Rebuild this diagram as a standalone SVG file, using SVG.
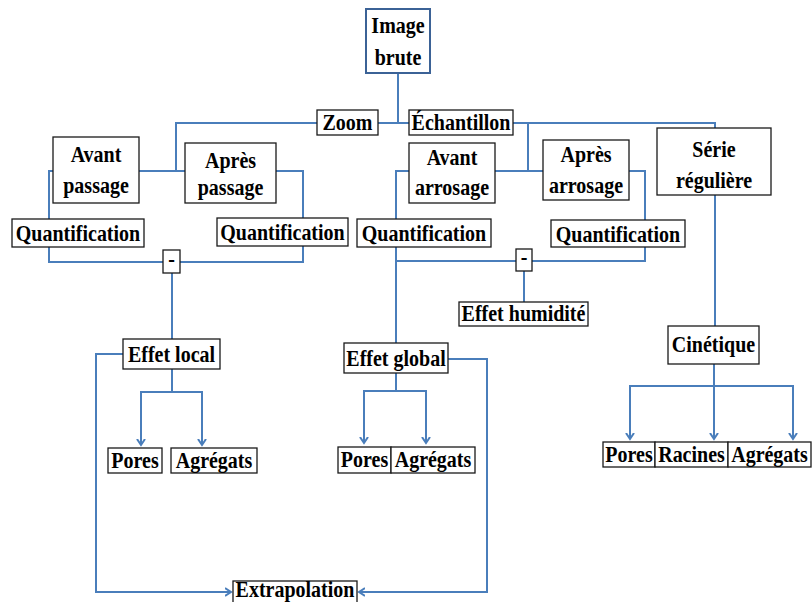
<svg xmlns="http://www.w3.org/2000/svg" width="812" height="602" viewBox="0 0 812 602">
<style>
.bx{fill:#fff;stroke:#1a1a1a;stroke-width:1.3}
.bb{fill:#fff;stroke:#3b6296;stroke-width:2}
.t{font-family:"Liberation Serif","Times New Roman",serif;font-weight:bold;font-size:20px;fill:#000;text-anchor:middle}
.c{fill:none;stroke:#4a7ebb;stroke-width:2}
</style>
<defs>
<marker id="ar" markerUnits="userSpaceOnUse" markerWidth="12" markerHeight="12" viewBox="-6 -6 12 12" refX="0" refY="0" orient="auto-start-reverse">
<path d="M-6,-4 L0,0 L-6,4" fill="none" stroke="#4a7ebb" stroke-width="2"/>
</marker>
</defs>
<rect width="812" height="602" fill="#fff"/>
<g id="connectors">
<path class="c" d="M398,73 V123"/>
<path class="c" d="M176,171 V123 H715 V128"/>
<path class="c" d="M528,123 V171"/>
<path class="c" d="M49,219 V171 H303 V218"/>
<path class="c" d="M49,247 V262 H303 V246"/>
<path class="c" d="M172,273 V339"/>
<path class="c" d="M396,344 V171 H645 V220"/>
<path class="c" d="M396,261 H645 V247"/>
<path class="c" d="M524,271 V302"/>
<path class="c" d="M715,195 V326"/>
<path class="c" d="M172,369 V392"/>
<path class="c" d="M141,445 V392 H202 V445" marker-end="url(#ar)" marker-start="url(#ar)"/>
<path class="c" d="M123,354 H96 V592 H231" marker-end="url(#ar)"/>
<path class="c" d="M396,373 V391"/>
<path class="c" d="M364,443 V391 H426 V443" marker-end="url(#ar)" marker-start="url(#ar)"/>
<path class="c" d="M448,359 H487 V592 H359" marker-end="url(#ar)"/>
<path class="c" d="M714,364 V439" marker-end="url(#ar)"/>
<path class="c" d="M630,439 V386 H793 V439" marker-end="url(#ar)" marker-start="url(#ar)"/>
</g>
<g id="image-brute"><rect class="bb" x="366" y="9" width="64" height="64"/>
<text class="t" transform="matrix(1,0,0,1.12,398,33)">Image</text>
<text class="t" transform="matrix(1,0,0,1.12,398,65)">brute</text></g>
<g id="zoom"><rect class="bx" x="317" y="110" width="61" height="25"/>
<text class="t" transform="matrix(1,0,0,1.12,347.5,130)">Zoom</text></g>
<g id="echantillon"><rect class="bx" x="409" y="110" width="104" height="25"/>
<text class="t" transform="matrix(1,0,0,1.12,461,130)">Échantillon</text></g>
<g id="avant-passage"><rect class="bx" x="53" y="137" width="86" height="66"/>
<text class="t" transform="matrix(1,0,0,1.12,96,162)">Avant</text>
<text class="t" transform="matrix(1,0,0,1.12,96,193)">passage</text></g>
<g id="apres-passage"><rect class="bx" x="185" y="143" width="91" height="60"/>
<text class="t" transform="matrix(1,0,0,1.12,230.5,168)">Après</text>
<text class="t" transform="matrix(1,0,0,1.12,230.5,195)">passage</text></g>
<g id="quant-1"><rect class="bx" x="12" y="219" width="132" height="28"/>
<text class="t" transform="matrix(1,0,0,1.12,78,241)">Quantification</text></g>
<g id="quant-2"><rect class="bx" x="217" y="218" width="131" height="28"/>
<text class="t" transform="matrix(1,0,0,1.12,282.5,240)">Quantification</text></g>
<g id="minus-1"><rect class="bx" x="163" y="250" width="17" height="23"/>
<text class="t" transform="matrix(1,0,0,1.12,171.5,267)">-</text></g>
<g id="avant-arrosage"><rect class="bx" x="409" y="143" width="86" height="60"/>
<text class="t" transform="matrix(1,0,0,1.12,452,165)">Avant</text>
<text class="t" transform="matrix(1,0,0,1.12,452,195)">arrosage</text></g>
<g id="apres-arrosage"><rect class="bx" x="543" y="140" width="86" height="60"/>
<text class="t" transform="matrix(1,0,0,1.12,586,162)">Après</text>
<text class="t" transform="matrix(1,0,0,1.12,586,193)">arrosage</text></g>
<g id="quant-3"><rect class="bx" x="357" y="219" width="134" height="28"/>
<text class="t" transform="matrix(1,0,0,1.12,424,241)">Quantification</text></g>
<g id="quant-4"><rect class="bx" x="551" y="220" width="134" height="27"/>
<text class="t" transform="matrix(1,0,0,1.12,618,242)">Quantification</text></g>
<g id="minus-2"><rect class="bx" x="516" y="249" width="16" height="22"/>
<text class="t" transform="matrix(1,0,0,1.12,524,265)">-</text></g>
<g id="effet-humidite"><rect class="bx" x="459" y="302" width="129" height="24"/>
<text class="t" transform="matrix(1,0,0,1.12,523.5,321)">Effet humidité</text></g>
<g id="serie-reguliere"><rect class="bx" x="657" y="128" width="114" height="67"/>
<text class="t" transform="matrix(1,0,0,1.12,714,157)">Série</text>
<text class="t" transform="matrix(1,0,0,1.12,714,188)">régulière</text></g>
<g id="effet-local"><rect class="bx" x="123" y="339" width="97" height="30"/>
<text class="t" transform="matrix(1,0,0,1.12,171.5,362)">Effet local</text></g>
<g id="effet-global"><rect class="bx" x="344" y="343" width="104" height="30"/>
<text class="t" transform="matrix(1,0,0,1.12,396,366)">Effet global</text></g>
<g id="pores-1"><rect class="bx" x="108" y="448" width="54" height="25"/>
<text class="t" transform="matrix(1,0,0,1.12,135,468)">Pores</text></g>
<g id="agregats-1"><rect class="bx" x="171" y="448" width="86" height="25"/>
<text class="t" transform="matrix(1,0,0,1.12,214,468)">Agrégats</text></g>
<g id="pores-2"><rect class="bx" x="338" y="447" width="53" height="26"/>
<text class="t" transform="matrix(1,0,0,1.12,364.5,467)">Pores</text></g>
<g id="agregats-2"><rect class="bx" x="391" y="447" width="84" height="26"/>
<text class="t" transform="matrix(1,0,0,1.12,433,467)">Agrégats</text></g>
<g id="cinetique"><rect class="bx" x="668" y="326" width="91" height="38"/>
<text class="t" transform="matrix(1,0,0,1.12,713.5,352)">Cinétique</text></g>
<g id="pores-3"><rect class="bx" x="603" y="442" width="52" height="25"/>
<text class="t" transform="matrix(1,0,0,1.12,629,462)">Pores</text></g>
<g id="racines"><rect class="bx" x="655" y="442" width="73" height="25"/>
<text class="t" transform="matrix(1,0,0,1.12,691.5,462)">Racines</text></g>
<g id="agregats-3"><rect class="bx" x="728" y="442" width="83" height="25"/>
<text class="t" transform="matrix(1,0,0,1.12,769.5,462)">Agrégats</text></g>
<g id="extrapolation"><rect class="bx" x="233" y="581" width="124" height="26"/>
<text class="t" transform="matrix(1,0,0,1.12,295,597)">Extrapolation</text></g>
</svg>
